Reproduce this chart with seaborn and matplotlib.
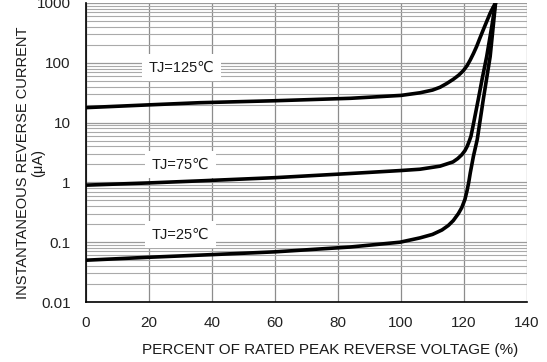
import matplotlib
matplotlib.use("Agg")
import matplotlib.pyplot as plt
import seaborn as sns
import pandas as pd
import numpy as np
from matplotlib.ticker import LogLocator, FixedLocator, NullFormatter

# ---- data ----
x_125 = [0, 20, 36, 60, 84, 100, 106, 110, 112.4, 114.5, 116.6, 118.3, 119.8, 121, 122, 123, 124, 125, 126.1, 127.2, 128.3, 129.2, 130]
y_125 = [17.8, 19.8, 21.5, 23.2, 25.5, 28.5, 31.5, 35, 39, 45, 53, 62, 74, 90, 112, 143, 187, 255, 355, 490, 675, 840, 1000]

x_75 = [0, 20, 36, 60, 84, 100, 106, 112.4, 116.5, 118, 119.3, 120.3, 121, 121.6, 122.2, 123, 124.5, 125.8, 127.2, 128.8, 130]
y_75 = [0.9, 0.98, 1.06, 1.2, 1.41, 1.58, 1.66, 1.87, 2.2, 2.5, 2.9, 3.4, 4.0, 4.8, 5.9, 9.5, 24, 55, 127, 400, 1000]

x_25 = [0, 20, 40, 60, 83.8, 99.7, 106, 110, 113, 115, 116.6, 118.2, 119.3, 120.3, 121, 121.5, 122, 123, 124.2, 126.1, 128.3, 129.3, 130]
y_25 = [0.05, 0.056, 0.062, 0.069, 0.083, 0.10, 0.118, 0.135, 0.16, 0.19, 0.23, 0.30, 0.38, 0.52, 0.74, 1.0, 1.45, 2.75, 5.2, 24, 127, 420, 1000]

series_names = ["TJ=125℃", "TJ=75℃", "TJ=25℃"]
label_x = [30.2, 30.0, 30.0]
label_y = [83, 2.0, 0.135]

x_ticks = [0, 20, 40, 60, 80, 100, 120, 140]
y_ticks = [0.01, 0.1, 1, 10, 100, 1000]
y_tick_labels = ["0.01", "0.1", "1", "10", "100", "1000"]

x_label = "PERCENT OF RATED PEAK REVERSE VOLTAGE (%)"
y_label = "INSTANTANEOUS REVERSE CURRENT\n(μA)"

df = pd.concat([
    pd.DataFrame({"x": x_125, "y": y_125, "s": series_names[0]}),
    pd.DataFrame({"x": x_75, "y": y_75, "s": series_names[1]}),
    pd.DataFrame({"x": x_25, "y": y_25, "s": series_names[2]}),
], ignore_index=True)

sns.set_style("white")
plt.rcParams["font.family"] = ["Liberation Sans", "DejaVu Sans"]

W, H = 547, 362
fig = plt.figure(figsize=(W / 100, H / 100), dpi=100)
ax = fig.add_axes([86 / W, 60 / H, 441 / W, 299 / H])

ax.set_yscale("log")
ax.set_xlim(0, 140)
ax.set_ylim(0.01, 1000)

sns.lineplot(data=df, x="x", y="y", hue="s", palette=["black"] * 3,
             estimator=None, sort=False, linewidth=2.6, legend=False, ax=ax, zorder=5)
for ln in ax.get_lines():
    ln.set_solid_joinstyle("round")
    ln.set_solid_capstyle("round")

# grid
ax.xaxis.set_major_locator(FixedLocator(x_ticks))
ax.yaxis.set_major_locator(FixedLocator(y_ticks))
ax.yaxis.set_minor_locator(LogLocator(base=10, subs=np.arange(2, 10), numticks=20))
ax.yaxis.set_minor_formatter(NullFormatter())
ax.set_yticklabels(y_tick_labels)
ax.set_xticklabels([str(v) for v in x_ticks])
ax.grid(True, which="major", axis="x", color="#8c8c8c", linewidth=0.9, zorder=1)
ax.grid(True, which="major", axis="y", color="#9a9a9a", linewidth=0.9, zorder=1)
ax.grid(True, which="minor", axis="y", color="#aaaaaa", linewidth=0.8, zorder=1)
ax.set_axisbelow(True)

for sp in ["top", "right"]:
    ax.spines[sp].set_visible(False)
for sp in ["left", "bottom"]:
    ax.spines[sp].set_color("black")
    ax.spines[sp].set_linewidth(1.2)
    ax.spines[sp].set_zorder(6)

ax.tick_params(axis="both", which="both", length=0, labelsize=11, colors="#222222")
ax.tick_params(axis="y", pad=11)
ax.tick_params(axis="x", pad=10)
ax.set_xlabel("")
ax.set_ylabel("")

for name, lx, ly in zip(series_names, label_x, label_y):
    ax.text(lx, ly, name, fontsize=10.5, ha="center", va="center", color="#1a1a1a",
            bbox=dict(facecolor="white", edgecolor="none", boxstyle="square,pad=0.45"),
            zorder=4)

fig.text(330 / W, 1 - 350 / H, x_label, ha="center", va="center", fontsize=11, color="#1a1a1a")
fig.text(31 / W, 1 - 163 / H, y_label, ha="center", va="center", rotation=90,
         fontsize=10.5, color="#1a1a1a", linespacing=1.1)

fig.savefig("out.png", dpi=100, facecolor="white")
